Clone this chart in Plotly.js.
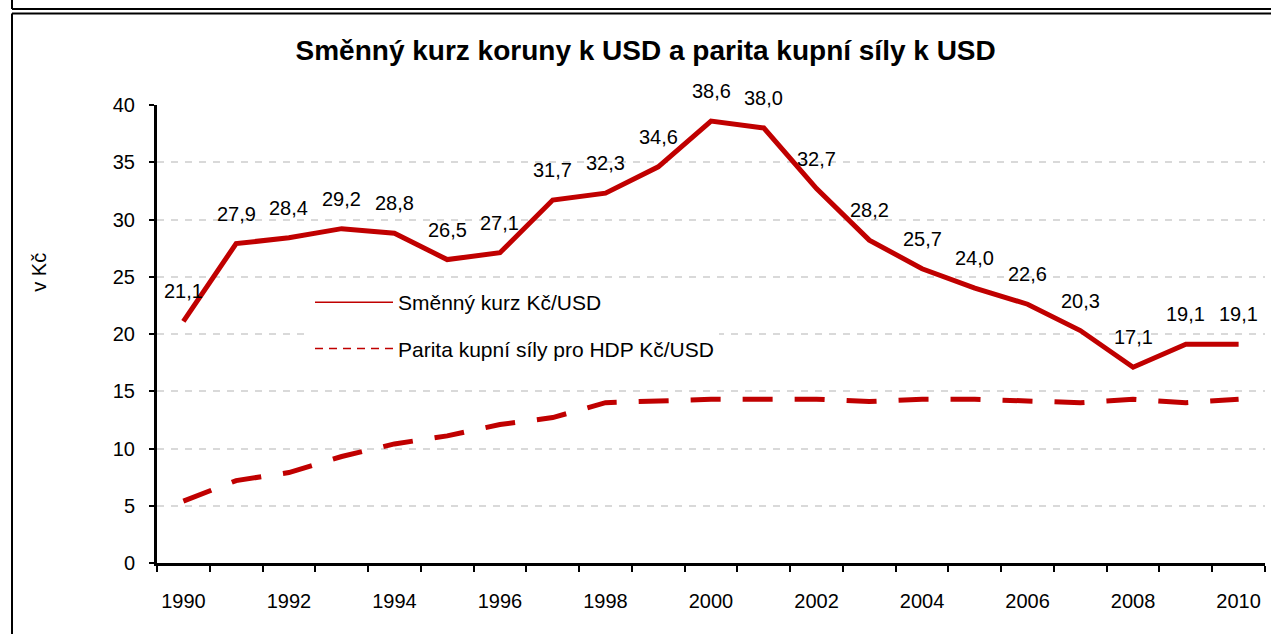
<!DOCTYPE html>
<html>
<head>
<meta charset="utf-8">
<script src="https://cdn.plot.ly/plotly-3.0.1.min.js"></script>
<style>html,body{margin:0;padding:0;background:#fff;}#chart{width:1271px;height:634px;}</style>
</head>
<body>
<div id="chart"></div>
<script>
// ---- data ----
const years = [1990,1991,1992,1993,1994,1995,1996,1997,1998,1999,2000,2001,2002,2003,2004,2005,2006,2007,2008,2009,2010];
const exchangeRate = [21.1,27.9,28.4,29.2,28.8,26.5,27.1,31.7,32.3,34.6,38.6,38.0,32.7,28.2,25.7,24.0,22.6,20.3,17.1,19.1,19.1];
const pppGdp = [5.4,7.2,7.9,9.3,10.4,11.1,12.1,12.7,14.0,14.2,14.3,14.3,14.3,14.1,14.3,14.3,14.1,14.0,14.3,14.0,14.3];
const tickYears = [1990,1992,1994,1996,1998,2000,2002,2004,2006,2008,2010];
const seriesNames = ["Směnný kurz Kč/USD", "Parita kupní síly pro HDP Kč/USD"];
const chartTitle = "Směnný kurz koruny k USD a parita kupní síly k USD";
const yTitle = "v Kč";

const RED = "#C00000";
const FONT = "Liberation Sans, Arial, sans-serif";
const fmt = v => v.toFixed(1).replace(".", ",");

const traces = [
  {x: years, y: exchangeRate, type: "scatter", mode: "lines", name: seriesNames[0],
   legendgroup: "a", showlegend: false, line: {color: RED, width: 5}, hoverinfo: "x+y"},
  {x: years, y: pppGdp, type: "scatter", mode: "lines", name: seriesNames[1],
   legendgroup: "b", showlegend: false, line: {color: RED, width: 5, dash: "30px,22px"}, hoverinfo: "x+y"},
  // legend samples (thin lines as in the reference legend)
  {x: [null], y: [null], type: "scatter", mode: "lines", name: seriesNames[0],
   legendgroup: "a", line: {color: RED, width: 1.5}},
  {x: [null], y: [null], type: "scatter", mode: "lines", name: seriesNames[1],
   legendgroup: "b", line: {color: RED, width: 1.5, dash: "8px,6px"}}
];

const annotations = years.map((yr, i) => ({
  x: yr, y: exchangeRate[i], xref: "x", yref: "y", text: fmt(exchangeRate[i]),
  showarrow: false, yshift: 30, yanchor: "middle", xanchor: "center",
  font: {family: FONT, size: 20, color: "#000"}
}));
annotations.push({
  text: yTitle, xref: "paper", yref: "paper", x: -0.106, y: 0.635,
  textangle: -90, showarrow: false, xanchor: "center", yanchor: "middle",
  font: {family: FONT, size: 20, color: "#000"}
});

// frame lines (paper coords relative to plot area: l=157,w=1108; b=563,h=458)
const px = p => (p - 157) / 1108;
const py = p => (563 - p) / 458;
const shapes = [
  {type: "line", xref: "paper", yref: "paper", x0: px(12), x1: px(12), y0: py(0), y1: py(9), line: {color: "#000", width: 2}},
  {type: "line", xref: "paper", yref: "paper", x0: px(12), x1: px(1275), y0: py(9), y1: py(9), line: {color: "#000", width: 2}},
  {type: "line", xref: "paper", yref: "paper", x0: px(12), x1: px(1275), y0: py(13.5), y1: py(13.5), line: {color: "#000", width: 2}},
  {type: "line", xref: "paper", yref: "paper", x0: px(12), x1: px(12), y0: py(13.5), y1: py(640), line: {color: "#000", width: 2}}
];

const layout = {
  width: 1271, height: 634,
  margin: {l: 157, r: 6, t: 105, b: 71},
  paper_bgcolor: "#fff", plot_bgcolor: "#fff",
  font: {family: FONT, size: 20, color: "#000"},
  title: {text: "<b>" + chartTitle + "</b>", font: {family: FONT, size: 28, color: "#000"},
          x: 0.508, xref: "container", xanchor: "center", y: 0.921, yref: "container", yanchor: "middle"},
  xaxis: {
    range: [1989.5, 2010.5], tickvals: tickYears, ticktext: tickYears.map(String),
    ticks: "", showgrid: false, zeroline: false,
    showline: true, linecolor: "#000", linewidth: 3,
    ticklabelstandoff: 18,
    tickfont: {family: FONT, size: 20, color: "#000"},
    minor: {ticks: "outside", tick0: 1989.5, dtick: 1, ticklen: 6, tickwidth: 2, tickcolor: "#000", showgrid: false},
    fixedrange: true
  },
  yaxis: {
    range: [0, 40], tickvals: [0,5,10,15,20,25,30,35,40],
    ticks: "outside", ticklen: 5, tickwidth: 2, tickcolor: "#000",
    showline: true, linecolor: "#000", linewidth: 3,
    showgrid: true, gridcolor: "#d9d9d9", gridwidth: 2, griddash: "7px,7px",
    zeroline: false, ticklabelstandoff: 10,
    tickfont: {family: FONT, size: 20, color: "#000"},
    fixedrange: true
  },
  showlegend: true,
  legend: {
    x: px(310), y: py(282), xanchor: "left", yanchor: "top",
    bgcolor: "#fff", borderwidth: 0, itemwidth: 78, tracegroupgap: 16,
    traceorder: "grouped",
    font: {family: FONT, size: 21, color: "#000"}
  },
  annotations: annotations,
  shapes: shapes
};

Plotly.newPlot("chart", traces, layout, {displayModeBar: false, staticPlot: true});
</script>
</body>
</html>
